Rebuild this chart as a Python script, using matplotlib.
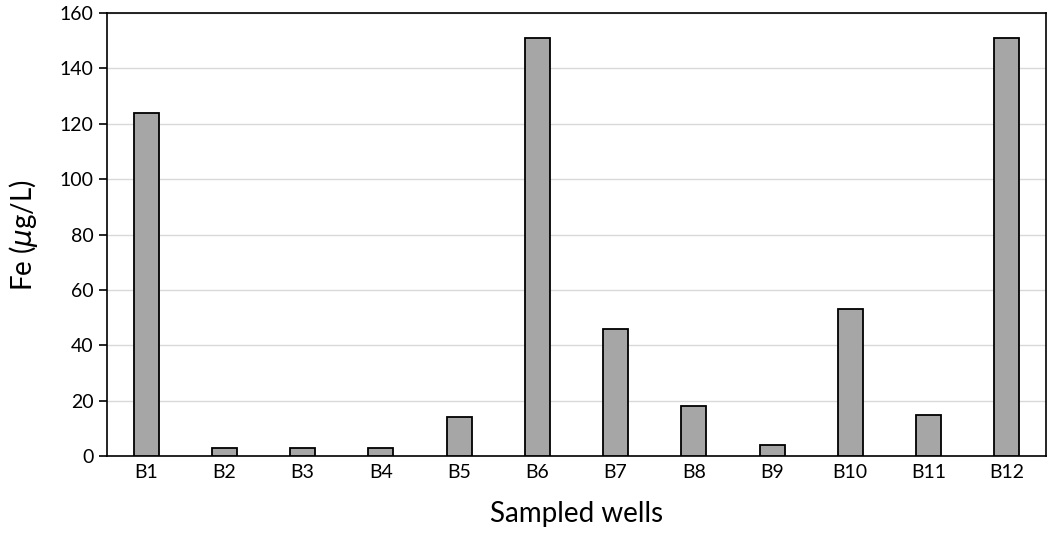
import matplotlib
matplotlib.use("Agg")
import matplotlib.pyplot as plt

# Données
wells = ['B1', 'B2', 'B3', 'B4', 'B5', 'B6', 'B7', 'B8', 'B9', 'B10', 'B11', 'B12']
fe = [124, 3, 3, 3, 14, 151, 46, 18, 4, 53, 15, 151]
y_ticks = [0, 20, 40, 60, 80, 100, 120, 140, 160]

plt.rcParams['font.family'] = ['Lato', 'DejaVu Sans']
plt.rcParams['mathtext.fontset'] = 'custom'
plt.rcParams['mathtext.it'] = 'DejaVu Sans:italic'

fig = plt.figure(figsize=(10.49, 5.43), dpi=100)
ax = fig.add_axes([0.102, 0.16, 0.895, 0.816])

ax.bar(range(len(wells)), fe, width=0.32, color='#a6a6a6', edgecolor='black',
       linewidth=1.3, zorder=3)

ax.set_xlim(-0.5, len(wells) - 0.5)
ax.set_ylim(0, 160)
ax.set_yticks(y_ticks)
ax.set_xticks(range(len(wells)))
ax.set_xticklabels(wells)
ax.yaxis.grid(True, color='#d9d9d9', linewidth=1.0, zorder=0)
ax.set_axisbelow(True)

for s in ax.spines.values():
    s.set_color('black')
    s.set_linewidth(1.2)

ax.tick_params(axis='y', length=5.5, width=1.2, labelsize=14, pad=4)
ax.tick_params(axis='x', length=0, labelsize=14, pad=6)

ax.set_xlabel('Sampled wells', fontsize=20, labelpad=14)
ax.set_ylabel(r'Fe ($\mu$g/L)', fontsize=20, labelpad=14)

fig.savefig('out.png', dpi=100)
